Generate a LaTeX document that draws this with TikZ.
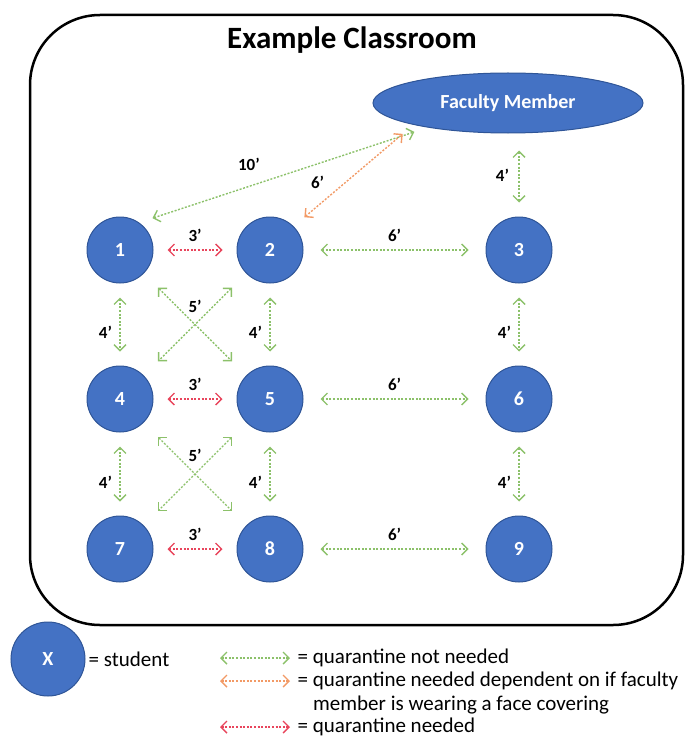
\documentclass[tikz,border=0pt]{standalone}
\usepackage{fontspec}
\setmainfont{Carlito}
\usepackage{xcolor}
\usepackage{tikz}
\usetikzlibrary{arrows.meta,positioning,shapes.geometric}

\definecolor{seatblue}{HTML}{4472C4}
\definecolor{seatedge}{HTML}{2F5597}
\definecolor{okgreen}{HTML}{8CC16A}
\definecolor{maskorange}{HTML}{F29A66}
\definecolor{qred}{HTML}{E8455C}

\begin{document}
\begin{tikzpicture}[x=1pt,y=-1pt,
	student/.style={circle,fill=seatblue,draw=seatedge,line width=1pt,minimum size=66pt,inner sep=0pt,text=white,font=\bfseries\fontsize{20}{24}\selectfont},
	gap/.style={dash pattern=on 2pt off 1.6pt,line width=1.4pt,{Straight Barb[length=6pt,width=12pt]}-{Straight Barb[length=6pt,width=12pt]},shorten <=14pt,shorten >=14pt},
	dist/.style={font=\bfseries\fontsize{17}{20}\selectfont,text=black},
	legend/.style={font=\fontsize{21}{25}\selectfont,anchor=west,inner sep=1pt,text=black}]
	\useasboundingbox (0,0) rectangle (695,749);
	\draw[line width=2.5pt,rounded corners=70pt] (30,15) rectangle (683,625);
	\node[font=\bfseries\fontsize{31}{36}\selectfont] (title) at (352,40) {Example Classroom};
	\node[ellipse,fill=seatblue,draw=seatedge,line width=1pt,minimum width=270pt,minimum height=60pt,text=white,font=\bfseries\fontsize{20}{24}\selectfont] (fac) at (508,103) {Faculty Member};
	
	\foreach \n/\x/\y in {1/120/250,2/270/250,3/519/250,4/120/399,5/270/399,6/519/399,7/120/549,8/270/549,9/519/549}
	\node[student] (s\n) at (\x,\y) {\n};
	
	\draw[gap,okgreen] (s1.55) -- (fac.197) node[dist,pos=.38,above=12pt] {10'};
	\draw[gap,maskorange] (s2.45) -- (fac.193) node[dist,pos=.25,above=8pt,xshift=-6pt] {6'};
	\draw[gap,okgreen,shorten <=17pt] (s3 |- fac.south) -- (s3) node[dist,midway,left=6pt] {4'};
	
	\foreach \a/\b in {1/2,4/5,7/8}
	\draw[gap,qred] (s\a) -- (s\b) node[dist,midway,above=4pt] {3'};
	\foreach \a/\b in {2/3,5/6,8/9}
	\draw[gap,okgreen,shorten <=17pt,shorten >=17pt] (s\a) -- (s\b) node[dist,midway,above=4pt] {6'};
	\foreach \a/\b in {1/4,4/7,2/5,5/8,3/6,6/9}
	\draw[gap,okgreen] (s\a) -- (s\b) node[dist,pos=.6,left=4pt] {4'};
	\foreach \a/\b/\c/\d in {1/5/2/4,4/8/5/7}
	{\draw[gap,okgreen,shorten <=20pt,shorten >=20pt] (s\a) -- (s\b);
	\draw[gap,okgreen,shorten <=20pt,shorten >=20pt] (s\c) -- (s\d) node[dist,midway,above=8pt] {5'};}
	
	\node[student,minimum size=74pt] (key) at (48,659) {X};
	\node[legend,right=2pt of key] (keytext) {= student};
	\coordinate (ga) at (220,658);
	\coordinate (gb) at (290,658);
	\coordinate (oa) at (220,681);
	\coordinate (ob) at (290,681);
	\coordinate (ra) at (220,727);
	\coordinate (rb) at (290,727);
	\draw[gap,okgreen,shorten <=0pt,shorten >=0pt] (ga) -- (gb) node[legend,right=6pt] (lgreen) {= quarantine not needed};
	\draw[gap,maskorange,shorten <=0pt,shorten >=0pt] (oa) -- (ob) node[legend,right=6pt] (lorange) {= quarantine needed dependent on if faculty};
	\node[legend] (lorange2) at ([xshift=16pt,yshift=-24pt]lorange.west) {member is wearing a face covering};
	\draw[gap,qred,shorten <=0pt,shorten >=0pt] (ra) -- (rb) node[legend,right=6pt] (lred) {= quarantine needed};
	
\end{tikzpicture}
\end{document}
